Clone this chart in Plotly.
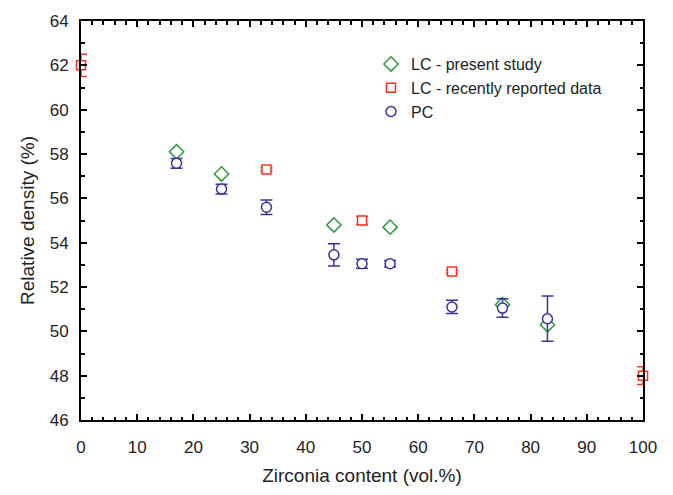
import plotly.graph_objects as go

# Laser-cladded (present study)
lc_x = [17, 25, 45, 55, 75, 83]
lc_y = [58.1, 57.1, 54.8, 54.7, 51.2, 50.3]

# Laser-cladded (recently reported data)
rep_x = [0, 33, 50, 66, 100]
rep_y = [62.0, 57.3, 55.0, 52.7, 48.0]
rep_err = [0.5, 0.08, 0.18, 0.08, 0.4]

# Plasma-cladded
pc_x = [17, 25, 33, 45, 50, 55, 66, 75, 83]
pc_y = [57.58, 56.42, 55.6, 53.45, 53.05, 53.05, 51.1, 51.05, 50.57]
pc_err = [0.22, 0.22, 0.33, 0.5, 0.2, 0.15, 0.3, 0.42, 1.02]

GREEN = "#2c9a3c"
RED = "#f5341f"
BLUE = "#38349c"
FONT = "Liberation Sans, Arial, sans-serif"

fig = go.Figure()

fig.add_trace(go.Scatter(
    x=lc_x, y=lc_y, mode="markers", name="LC - present study",
    marker=dict(symbol="diamond-open", size=11, color=GREEN,
                line=dict(width=1.5, color=GREEN)),
    cliponaxis=False,
))

fig.add_trace(go.Scatter(
    x=rep_x, y=rep_y, mode="markers", name="LC - recently reported data",
    marker=dict(symbol="square", size=9, color="white",
                line=dict(width=1.5, color=RED)),
    error_y=dict(type="data", array=rep_err, visible=True, color=RED,
                 thickness=1.5, width=6),
    cliponaxis=False,
))

fig.add_trace(go.Scatter(
    x=pc_x, y=pc_y, mode="markers", name="PC",
    marker=dict(symbol="circle", size=10, color="white",
                line=dict(width=1.5, color=BLUE)),
    error_y=dict(type="data", array=pc_err, visible=True, color=BLUE,
                 thickness=1.5, width=6),
    cliponaxis=False,
))

axis_common = dict(
    showline=True, linecolor="black", linewidth=2, mirror="allticks",
    ticks="inside", ticklen=6, tickwidth=1.5, tickcolor="black",
    showgrid=False, zeroline=False,
    tickfont=dict(family=FONT, size=17, color="#222"),
)

fig.update_xaxes(
    range=[0, 100], dtick=10, tick0=0,
    minor=dict(dtick=2, ticks="inside", ticklen=3.5, tickwidth=1.5, tickcolor="black"),
    title=dict(text="Zirconia content (vol.%)", font=dict(family=FONT, size=19, color="#222"),
               standoff=12),
    ticklabelstandoff=11,
    **axis_common,
)
fig.update_yaxes(
    range=[46, 64], dtick=2, tick0=46,
    minor=dict(dtick=1, ticks="inside", ticklen=3.5, tickwidth=1.5, tickcolor="black"),
    title=dict(text="Relative density (%)", font=dict(family=FONT, size=19, color="#222"),
               standoff=10),
    ticklabelstandoff=7,
    **axis_common,
)

fig.update_layout(
    width=673, height=495,
    margin=dict(l=81, r=30, t=17, b=72),
    paper_bgcolor="white", plot_bgcolor="white",
    font=dict(family=FONT, color="#222"),
    legend=dict(
        x=0.516, y=0.832, xanchor="left", yanchor="middle",
        font=dict(family=FONT, size=16, color="#222"),
        bgcolor="rgba(0,0,0,0)", itemwidth=30, tracegroupgap=0,
    ),
)

fig.write_html("out.html")
